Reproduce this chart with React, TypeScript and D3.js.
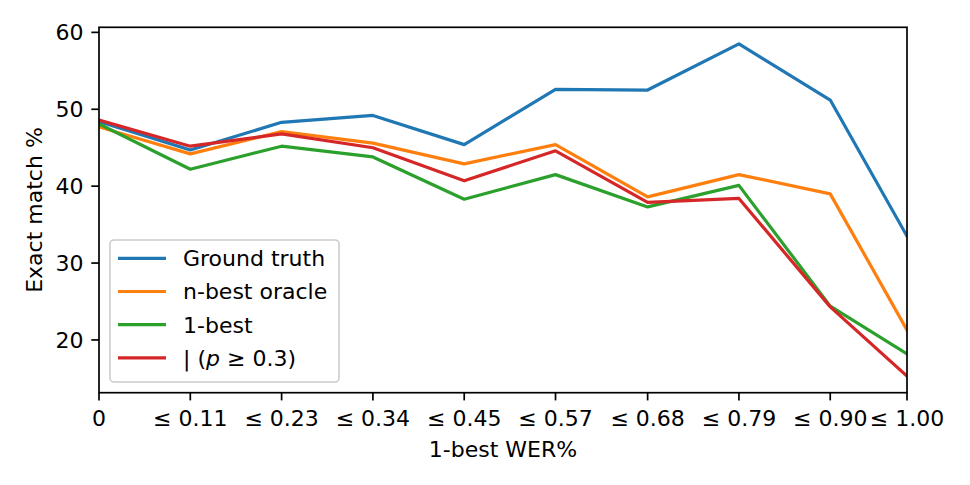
import React from "react";
import * as d3 from "d3";

const xValues = [0, 0.113, 0.226, 0.339, 0.452, 0.565, 0.679, 0.792, 0.905, 1.0];
const xTickLabels = ["0", "≤ 0.11", "≤ 0.23", "≤ 0.34", "≤ 0.45", "≤ 0.57", "≤ 0.68", "≤ 0.79", "≤ 0.90", "≤ 1.00"];
const groundTruth = [48.4, 44.7, 48.3, 49.2, 45.4, 52.6, 52.5, 58.5, 51.2, 33.5];
const nBestOracle = [47.7, 44.2, 47.1, 45.6, 42.9, 45.4, 38.6, 41.5, 39.0, 21.3];
const oneBest = [48.1, 42.2, 45.2, 43.8, 38.3, 41.5, 37.3, 40.1, 24.4, 18.2];
const filtered = [48.6, 45.2, 46.8, 45.0, 40.7, 44.6, 37.9, 38.4, 24.3, 15.3];
const yTicks = [20, 30, 40, 50, 60];

const seriesNames = ["Ground truth", "n-best oracle", "1-best", "filtered"];
const seriesValues = [groundTruth, nBestOracle, oneBest, filtered];
const colors = ["#1f77b4", "#ff7f0e", "#2ca02c", "#d62728"];

const W = 970;
const H = 485;
const L = 99;
const R = 907;
const T = 27.3;
const B = 392.7;
const FS = 22;
const FONT = "DejaVu Sans, sans-serif";

export default function App() {
  const all = seriesValues.flat();
  const mn = d3.min(all)!;
  const mx = d3.max(all)!;
  const pad = (mx - mn) * 0.05;
  const x = d3.scaleLinear().domain([0, 1]).range([L, R]);
  const y = d3.scaleLinear().domain([mn - pad, mx + pad]).range([B, T]);
  const line = d3
    .line<number>()
    .x((_, i) => x(xValues[i]))
    .y((d) => y(d));

  const legX = 110;
  const legY = 240;
  const legW = 229;
  const legH = 142;
  const rowY = (i: number) => 258.3 + i * 33.2;

  return (
    <svg
      width={W}
      height={H}
      style={{ position: "absolute", left: 0, top: 0, background: "#fff" }}
      fontFamily={FONT}
    >
      <defs>
        <clipPath id="plotclip">
          <rect x={L} y={T} width={R - L} height={B - T} />
        </clipPath>
      </defs>
      <rect x={0} y={0} width={W} height={H} fill="#fff" />
      <g clipPath="url(#plotclip)">
        {seriesValues.map((s, i) => (
          <path
            key={i}
            d={line(s) || ""}
            fill="none"
            stroke={colors[i]}
            strokeWidth={3.2}
            strokeLinejoin="round"
            strokeLinecap="square"
          />
        ))}
      </g>
      {/* spines */}
      <rect x={L} y={T} width={R - L} height={B - T} fill="none" stroke="#000" strokeWidth={1.7} />
      {/* y ticks */}
      {yTicks.map((t) => (
        <g key={t}>
          <line x1={L - 7.7} x2={L} y1={y(t)} y2={y(t)} stroke="#000" strokeWidth={1.7} />
          <text x={L - 15.5} y={y(t)} dy="0.36em" textAnchor="end" fontSize={FS} fill="#000">
            {t}
          </text>
        </g>
      ))}
      {/* x ticks */}
      {xValues.map((v, i) => (
        <g key={i}>
          <line x1={x(v)} x2={x(v)} y1={B} y2={B + 7.7} stroke="#000" strokeWidth={1.7} />
          <text x={x(v)} y={426} textAnchor="middle" fontSize={FS} fill="#000">
            {xTickLabels[i]}
          </text>
        </g>
      ))}
      <text x={(L + R) / 2} y={457} textAnchor="middle" fontSize={FS} fill="#000">
        1-best WER%
      </text>
      <text
        transform={`translate(42,${(T + B) / 2}) rotate(-90)`}
        textAnchor="middle"
        fontSize={FS}
        fill="#000"
      >
        Exact match %
      </text>
      {/* legend */}
      <rect
        x={legX}
        y={legY}
        width={legW}
        height={legH}
        rx={4}
        fill="#fff"
        fillOpacity={0.8}
        stroke="#cccccc"
        strokeWidth={1.6}
      />
      {seriesNames.map((n, i) => (
        <g key={n}>
          <line x1={118} x2={166} y1={rowY(i)} y2={rowY(i)} stroke={colors[i]} strokeWidth={3.2} />
          <text x={183} y={rowY(i)} dy="0.36em" fontSize={FS} fill="#000">
            {i === 3 ? (
              <>
                {"| ("}
                <tspan fontStyle="italic">p</tspan>
                {" ≥ 0.3)"}
              </>
            ) : (
              n
            )}
          </text>
        </g>
      ))}
    </svg>
  );
}
